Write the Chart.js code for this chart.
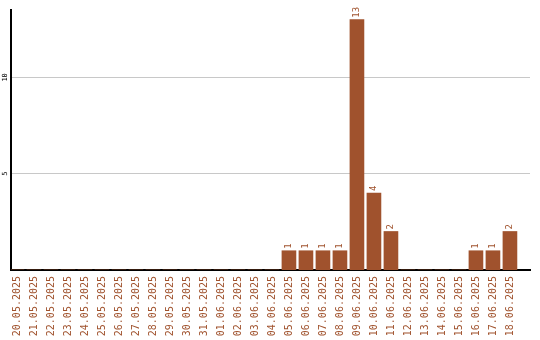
<!DOCTYPE html>
<html>
<head>
<meta charset="utf-8">
<script src="https://cdn.jsdelivr.net/npm/chart.js@4/dist/chart.umd.min.js"></script>
<style>
html,body{margin:0;padding:0;background:#fff;}
</style>
</head>
<body>
<canvas id="chart" width="540" height="340"></canvas>
<script>

const dates = ['20.05.2025','21.05.2025','22.05.2025','23.05.2025','24.05.2025','25.05.2025',
'26.05.2025','27.05.2025','28.05.2025','29.05.2025','30.05.2025','31.05.2025',
'01.06.2025','02.06.2025','03.06.2025','04.06.2025','05.06.2025','06.06.2025',
'07.06.2025','08.06.2025','09.06.2025','10.06.2025','11.06.2025','12.06.2025',
'13.06.2025','14.06.2025','15.06.2025','16.06.2025','17.06.2025','18.06.2025'];

const counts = [0,0,0,0,0,0,0,0,0,0,0,0,0,0,0,0,1,1,1,1,13,4,2,0,0,0,0,1,1,2];

const yTicks = [5,10];

const brown = '#a0522d';
const mono = "'DejaVu Sans Mono', monospace";

// rotated value labels on top of bars + rotated y tick labels
const labelPlugin = {
id:'labels',
afterDatasetsDraw(chart)
{
const c = chart.ctx;
const meta = chart.getDatasetMeta(0);
c.save();
c.fillStyle = brown;
c.font = '9px ' + mono;
c.textAlign = 'left';
c.textBaseline = 'middle';
meta.data.forEach((bar,i)=>{
if(!counts[i]) return;
c.save();
c.translate(bar.x, bar.y - 2);
c.rotate(-Math.PI/2);
c.fillText(String(counts[i]),0,0);
c.restore();
});

const y = chart.scales.y;
c.fillStyle = '#000';
c.font = '7px ' + mono;
c.textAlign = 'center';
yTicks.forEach(v=>{
c.save();
c.translate(5, y.getPixelForValue(v));
c.rotate(-Math.PI/2);
c.fillText(String(v),0,0);
c.restore();
});
c.restore();
}
};

const chart = new Chart(document.getElementById('chart').getContext('2d'),{
type:'bar',
data:{
datasets:[{
data:counts.map((v,i)=>({x:i,y:v})),
backgroundColor:brown,
barThickness:14
}]
},
options:{
responsive:false,
animation:false,
devicePixelRatio:1,
layout:{padding:{left:11,right:10,top:10,bottom:0}},
plugins:{legend:{display:false},tooltip:{enabled:false}},
scales:{
x:{
type:'linear',
offset:false,
min:-0.35,
max:30.18,
afterBuildTicks:s=>{ s.ticks = dates.map((_,i)=>({value:i})); },
afterFit:s=>{ s.height = 70; },
grid:{display:false,drawTicks:false},
border:{color:'#000',width:2},
ticks:{
autoSkip:false,
minRotation:90,
maxRotation:90,
padding:6,
color:brown,
font:{family:mono,size:10},
callback:v=>dates[v]
}
},
y:{
min:0,
max:13.5,
afterBuildTicks:s=>{ s.ticks = yTicks.map(v=>({value:v})); },
grid:{color:'#c8c8c8',drawTicks:false},
border:{color:'#000',width:2},
ticks:{display:false}
}
}
},
plugins:[labelPlugin]
});

</script>
</body>
</html>
